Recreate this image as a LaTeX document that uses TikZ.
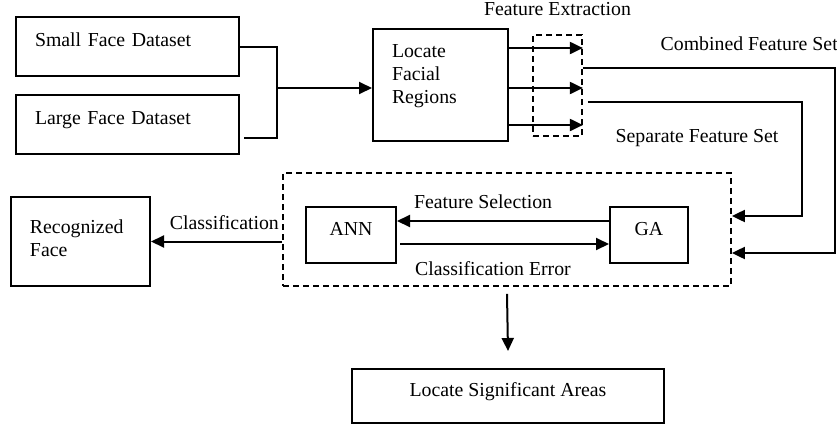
\documentclass[tikz,border=0pt]{standalone}
\usepackage{fontspec}
\setmainfont{Liberation Serif}
\usetikzlibrary{positioning,arrows.meta}

\begin{document}
\begin{tikzpicture}[
    x=0.5pt, y=-0.5pt,
    font=\fontsize{9.9pt}{11.5pt}\selectfont,
    box/.style={
        rectangle,
        draw=black,
        line width=1pt,
        inner xsep=9.5pt,
        inner ysep=0pt,
        text height=7pt,
        text depth=7pt
    },
    leftbox/.style={
        box,
        align=left,
        text width=#1
    },
    dashbox/.style={
        rectangle,
        draw=black,
        line width=0.9pt,
        dash pattern=on 3pt off 2pt
    },
    line/.style={
        -{Triangle[length=6.5pt,width=6pt]},
        line width=1pt
    },
    lbl/.style={
        inner sep=0pt
    }
]
\useasboundingbox (0,0) rectangle (837,424);

\node[leftbox=92.5pt,minimum height=29.5pt] (small) at (127.5,46.5) {Small Face Dataset};
\node[leftbox=92.5pt,minimum height=29.5pt,below=8.5pt of small] (large) {Large Face Dataset};
\node[leftbox=48.5pt,minimum height=56pt,text depth=35pt] (loc) at (440.5,85) {Locate\\Facial\\Regions};
\node[dashbox,minimum width=24.5pt,minimum height=50.5pt] (fe) at (557.5,85.5) {};
\node[lbl,above=9pt of fe] (fetxt) {Feature Extraction};

\node[dashbox,minimum width=224pt,minimum height=56.5pt] (gab) at (507,229.5) {};
\node[box,minimum width=45pt,minimum height=28pt] (ann) at (351,235) {ANN};
\node[box,minimum width=39pt,minimum height=28pt,right=106pt of ann] (ga) {GA};
\node[leftbox=50.5pt,minimum height=44.5pt,text depth=15.5pt] (rec) at (80.5,241.5) {Recognized\\Face};
\node[box,minimum width=156pt,minimum height=27pt] (lsa) at (508,396) {Locate Significant Areas};

\coordinate (join) at (277,88);

\draw[line width=1pt] (small.east) -| (join) |- ([xshift=2pt,yshift=-6.75pt]large.east);
\draw[line] (join) -- (join -| loc.west);

\foreach \dy in {18.5,-1.5,-20}
    \draw[line] ([yshift=\dy pt]loc.east) -- ([yshift=\dy pt]loc.east -| fe.east);

\draw[line] ([yshift=8.75pt]fe.east) -- node[lbl,above=8pt,pos=0.66] (cmbtxt) {Combined Feature Set} ++(252,0) |- ([yshift=-11.75pt]gab.east);
\draw[line] ([xshift=2.5pt,yshift=-8.25pt]fe.east) -- node[lbl,below=13pt,pos=0.51] (septxt) {Separate Feature Set} ++(214,0) |- ([yshift=6.75pt]gab.east);

\draw[line] ([yshift=7pt]ga.west) -- node[lbl,above=5.5pt,pos=0.594] (fstxt) {Feature Selection} ([yshift=7pt]ann.east);
\draw[line] ([xshift=1.5pt,yshift=-4.5pt]ann.east) -- node[lbl,below=8.5pt,pos=0.445] (cetxt) {Classification Error} ([yshift=-4.5pt]ga.west);

\draw[line] (gab.west |- rec.east) -- node[lbl,above=5.5pt,pos=0.44] (clstxt) {Classification} (rec.east);
\draw[line] ([yshift=-3.5pt]gab.south) -- ([yshift=8.5pt]lsa.north);

\end{tikzpicture}
\end{document}
